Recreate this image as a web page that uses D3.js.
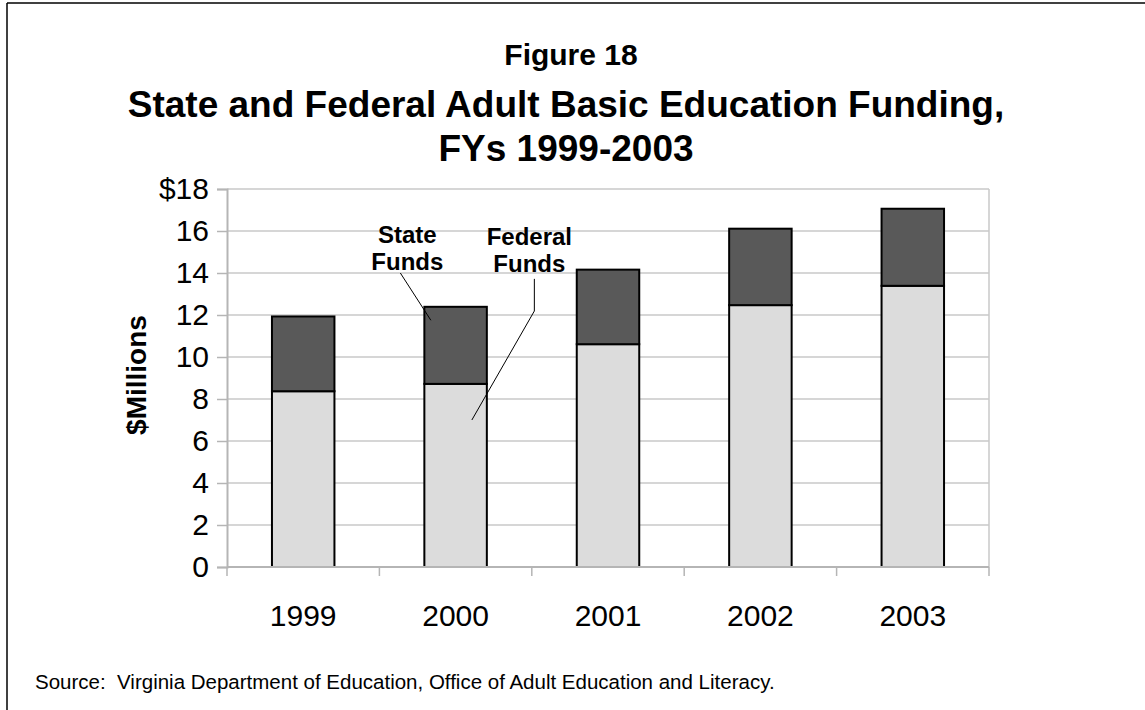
<!DOCTYPE html>
<html>
<head>
<meta charset="utf-8">
<script src="https://cdn.jsdelivr.net/npm/d3@7"></script>
<style>
  html, body { margin: 0; padding: 0; background: #fff; }
  svg { display: block; }
  text { font-family: "Liberation Sans", Arial, sans-serif; }
</style>
</head>
<body>
<svg id="chart" width="1145" height="710"></svg>
<script>
// ---- data ----
const years = ["1999", "2000", "2001", "2002", "2003"];
const federalFunds = [8.37, 8.72, 10.61, 12.47, 13.39];
const stateFunds = [3.56, 3.67, 3.55, 3.64, 3.67];
const yTicks = [0, 2, 4, 6, 8, 10, 12, 14, 16, 18];
const seriesNames = ["Federal Funds", "State Funds"];
const figureLabel = "Figure 18";
const titleLines = ["State and Federal Adult Basic Education Funding,", "FYs 1999-2003"];
const yAxisTitle = "$Millions";
const sourceNote = "Source:  Virginia Department of Education, Office of Adult Education and Literacy.";

// ---- layout ----
const W = 1145, H = 710;
const plot = { left: 227, right: 989, top: 189, bottom: 567 };
const colors = { federal: "#dcdcdc", state: "#595959" };

const svg = d3.select("#chart");

// outer frame (top and left)
svg.append("line").attr("x1", 7).attr("x2", W).attr("y1", 3).attr("y2", 3)
  .attr("stroke", "#000").attr("stroke-width", 1.5);
svg.append("line").attr("x1", 7).attr("x2", 7).attr("y1", 3).attr("y2", H)
  .attr("stroke", "#000").attr("stroke-width", 1.5);

const x = d3.scaleBand().domain(years).range([plot.left, plot.right])
  .paddingInner(0.59).paddingOuter(0.295);
const y = d3.scaleLinear().domain([0, 18]).range([plot.bottom, plot.top]);

// gridlines
svg.append("g").selectAll("line").data(yTicks.filter(d => d > 0)).join("line")
  .attr("x1", plot.left).attr("x2", plot.right)
  .attr("y1", d => y(d)).attr("y2", d => y(d))
  .attr("stroke", "#c8c8c8").attr("stroke-width", 1.5);
// right plot border
svg.append("line").attr("x1", plot.right).attr("x2", plot.right)
  .attr("y1", plot.top).attr("y2", plot.bottom)
  .attr("stroke", "#c8c8c8").attr("stroke-width", 1.5);

// y axis
const yAxis = d3.axisLeft(y).tickValues(yTicks).tickSize(10).tickPadding(8)
  .tickFormat(d => d === 18 ? "$18" : String(d));
const gy = svg.append("g").attr("transform", `translate(${plot.left},0)`).call(yAxis);
gy.select(".domain").attr("stroke", "#b5b5b5").attr("stroke-width", 2);
gy.selectAll(".tick line").attr("stroke", "#b5b5b5").attr("stroke-width", 1.5);
gy.selectAll(".tick text").attr("font-size", 30).attr("fill", "#000")
  .attr("font-family", "'Liberation Sans', Arial, sans-serif");

// stacked bars
const rows = years.map((yr, i) => ({ year: yr, federal: federalFunds[i], state: stateFunds[i] }));
const stack = d3.stack().keys(["federal", "state"])(rows);
const gBars = svg.append("g");
stack.forEach(layer => {
  gBars.append("g").selectAll("rect").data(layer).join("rect")
    .attr("x", d => x(d.data.year))
    .attr("width", x.bandwidth())
    .attr("y", d => y(d[1]))
    .attr("height", d => y(d[0]) - y(d[1]))
    .attr("fill", colors[layer.key])
    .attr("stroke", "#000").attr("stroke-width", 2);
});

// x axis (category boundary ticks)
const step = x.step();
const boundaries = d3.range(years.length + 1).map(i => plot.left + i * step);
svg.append("line").attr("x1", plot.left).attr("x2", plot.right)
  .attr("y1", plot.bottom).attr("y2", plot.bottom)
  .attr("stroke", "#b5b5b5").attr("stroke-width", 2);
svg.append("g").selectAll("line").data(boundaries).join("line")
  .attr("x1", d => d).attr("x2", d => d)
  .attr("y1", plot.bottom).attr("y2", plot.bottom + 9)
  .attr("stroke", "#b5b5b5").attr("stroke-width", 1.5);
svg.append("g").selectAll("text").data(years).join("text")
  .attr("x", d => x(d) + x.bandwidth() / 2)
  .attr("y", 626)
  .attr("text-anchor", "middle")
  .attr("font-size", 30)
  .text(d => d);

// y axis title
svg.append("text")
  .attr("transform", `translate(146,${(plot.top + plot.bottom) / 2 - 3}) rotate(-90)`)
  .attr("text-anchor", "middle")
  .attr("font-size", 28).attr("font-weight", "bold")
  .text(yAxisTitle);

// titles
svg.append("text").attr("x", 571).attr("y", 65).attr("text-anchor", "middle")
  .attr("font-size", 30).attr("font-weight", "bold").text(figureLabel);
svg.append("text").attr("x", 566).attr("y", 117).attr("text-anchor", "middle")
  .attr("font-size", 37).attr("font-weight", "bold").text(titleLines[0]);
svg.append("text").attr("x", 566).attr("y", 161).attr("text-anchor", "middle")
  .attr("font-size", 37).attr("font-weight", "bold").text(titleLines[1]);

// annotations (anchored to the 2000 bar)
const x2000 = x("2000");
const ann = svg.append("g");
// State Funds label
const stateLbl = ann.append("text").attr("text-anchor", "middle")
  .attr("font-size", 24).attr("font-weight", "bold");
stateLbl.append("tspan").attr("x", x2000 - 17).attr("y", 243).text("State");
stateLbl.append("tspan").attr("x", x2000 - 17).attr("y", 270).text("Funds");
ann.append("line")
  .attr("x1", x2000 - 24).attr("y1", y(14.0))
  .attr("x2", x2000 + 6.5).attr("y2", y(11.75))
  .attr("stroke", "#000").attr("stroke-width", 1);
// Federal Funds label
const fedLbl = ann.append("text").attr("text-anchor", "middle")
  .attr("font-size", 24).attr("font-weight", "bold");
fedLbl.append("tspan").attr("x", x2000 + 105).attr("y", 245).text("Federal");
fedLbl.append("tspan").attr("x", x2000 + 105).attr("y", 272).text("Funds");
ann.append("polyline")
  .attr("points", [
    [x2000 + 110, y(13.72)],
    [x2000 + 110, y(12.19)],
    [x2000 + 47.5, y(7.0)]
  ].map(p => p.join(",")).join(" "))
  .attr("fill", "none").attr("stroke", "#000").attr("stroke-width", 1);

// source
svg.append("text").attr("x", 35).attr("y", 689)
  .attr("font-size", 20.5).style("white-space", "pre").text(sourceNote);
</script>
</body>
</html>
